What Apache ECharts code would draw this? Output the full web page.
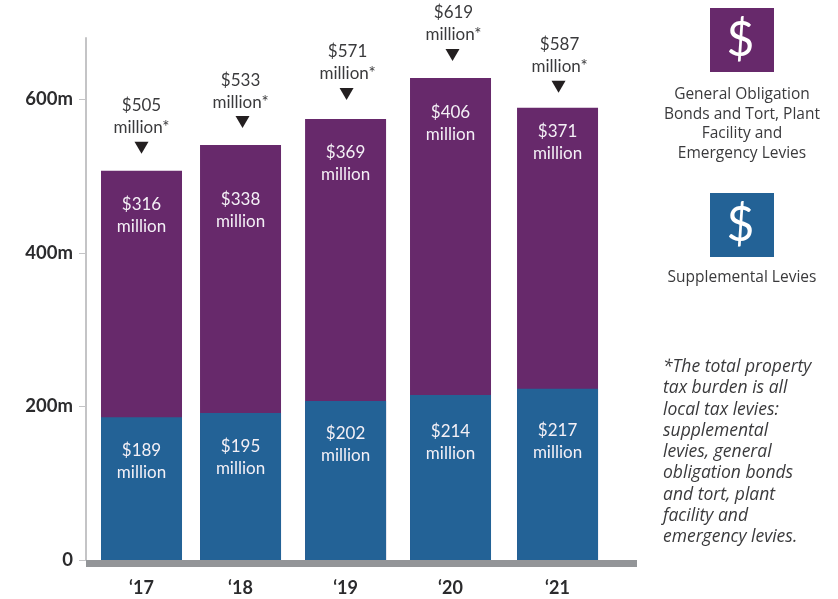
<!DOCTYPE html>
<html><head><meta charset="utf-8">
<style>html,body{margin:0;padding:0;background:#fff}#c{width:838px;height:599px}</style>
<script src="https://cdn.jsdelivr.net/npm/echarts@6/dist/echarts.min.js"></script>
</head><body><div id="c"></div>
<script>
const categories = ['‘17','‘18','‘19','‘20','‘21'];
const supplementalDrawn = [186, 191.5, 207, 215, 223];
const generalDrawn = [321, 349, 367.6, 413, 366];
const supplementalPrinted = [189, 195, 202, 214, 217];
const generalPrinted = [316, 338, 369, 406, 371];
const totalPrinted = [505, 533, 571, 619, 587];
const slots = [0, 0.952, 1.962, 2.971, 4];
const tickValues = [0, 200, 400, 600];
const generalDrop = [34, 54, 34, 35, 24];
const supplementalDrop = [33, 34, 32, 37, 42];
const markerNudgeX = [0, 2, 1, 2, 1];
const markerNudgeY = [0, 0, -2, 0, 2];
const labelNudgeX = [0, 0, 2, 3, 2];
const noteLines = ['*The total property','tax burden is all','local tax levies:','supplemental','levies, general','obligation bonds','and tort, plant','facility and','emergency levies.'];
const legendGeneral = ['General Obligation','Bonds and Tort, Plant','Facility and','Emergency Levies'];
const legendSupplemental = ['Supplemental Levies'];

const PURPLE = '#67296b', BLUE = '#236296', INK = '#3a3a3c', FONT = 'Lato', SIDE = 'Open Sans';
const stackedTop = supplementalDrawn.map((v, i) => v + generalDrawn[i]);
const stackLabel = (v, d) => ({
  show: true, position: 'insideTop', distance: d - 11,
  formatter: '$' + v + '\nmillion',
  color: '#f4f0f6', fontFamily: FONT, fontSize: 17, lineHeight: 22
});
const texts = (lines, x, ys, opts) => lines.map((t, i) => ({
  type: 'text', x, y: ys(i),
  style: Object.assign({ text: t, fontFamily: SIDE, fill: INK, textVerticalAlign: 'middle' }, opts)
}));
const swatch = (y, color) => ([
  { type: 'rect', shape: { x: 710, y, width: 64, height: 64 }, style: { fill: color } },
  { type: 'text', x: 740.5, y: y + 33, style: { text: '$', fontFamily: FONT, fontSize: 48, fill: '#fff', textAlign: 'center', textVerticalAlign: 'middle' } }
]);

const chart = echarts.init(document.getElementById('c'), null, { renderer: 'canvas' });
chart.setOption({
  animation: false,
  grid: { left: 86, top: 38, width: 551, height: 522 },
  xAxis: {
    type: 'value', min: -0.5337, max: 4.764, offset: 3.5, splitLine: { show: false },
    axisLine: { show: true, onZero: false, lineStyle: { color: '#939598', width: 7, cap: 'butt' } },
    axisTick: { show: false },
    axisLabel: {
      customValues: slots, margin: 16, color: '#2b2b2d', fontFamily: FONT, fontSize: 18, fontWeight: 'bold',
      formatter: v => categories[slots.indexOf(v)]
    }
  },
  yAxis: {
    type: 'value', min: 0, max: 680, splitLine: { show: false },
    axisLine: { show: true, onZero: false, lineStyle: { color: '#c4c4c6', width: 2 } },
    axisTick: { show: true, length: 7, customValues: tickValues, lineStyle: { color: '#c4c4c6', width: 1 } },
    axisLabel: {
      customValues: tickValues, margin: 13, color: '#2b2b2d', fontFamily: FONT, fontSize: 18.5, fontWeight: 'bold',
      formatter: v => v === 0 ? '0' : v + 'm'
    }
  },
  series: [
    { type: 'bar', name: 'General Obligation Bonds and Tort, Plant Facility and Emergency Levies', barWidth: 81, barGap: '-100%', itemStyle: { color: PURPLE },
      data: slots.map((s, i) => ({ value: [s, stackedTop[i]], label: stackLabel(generalPrinted[i], generalDrop[i]) })) },
    { type: 'bar', name: 'Supplemental Levies', barWidth: 81, barGap: '-100%', itemStyle: { color: BLUE },
      data: slots.map((s, i) => ({ value: [s, supplementalDrawn[i]], label: stackLabel(supplementalPrinted[i], supplementalDrop[i]) })) },
    { type: 'scatter', name: 'Total', symbol: 'path://M0 0L14 0L7 12Z', symbolSize: [14, 12], z: 5,
      itemStyle: { color: '#231f20', opacity: 1 },
      label: { show: true, position: 'top', distance: 2, color: INK, fontFamily: FONT, fontSize: 17, lineHeight: 22,
        formatter: p => '$' + totalPrinted[p.dataIndex] + '\nmillion*' },
      data: slots.map((s, i) => ({
        value: [s, stackedTop[i]],
        symbolOffset: [markerNudgeX[i], -23 + markerNudgeY[i]],
        label: { offset: [labelNudgeX[i] - markerNudgeX[i], -1] }
      })) }
  ],
  graphic: { elements: [
    ...swatch(8, PURPLE), ...swatch(193, BLUE),
    ...texts(legendGeneral, 742, i => 95 + i * 19.4, { fontSize: 15.5, textAlign: 'center' }),
    ...texts(legendSupplemental, 742, () => 278, { fontSize: 15.5, textAlign: 'center' }),
    ...texts(noteLines, 663, i => 367 + i * 21.3, { fontSize: 17.5, fontStyle: 'italic', textAlign: 'left' })
  ] }
});
</script></body></html>
